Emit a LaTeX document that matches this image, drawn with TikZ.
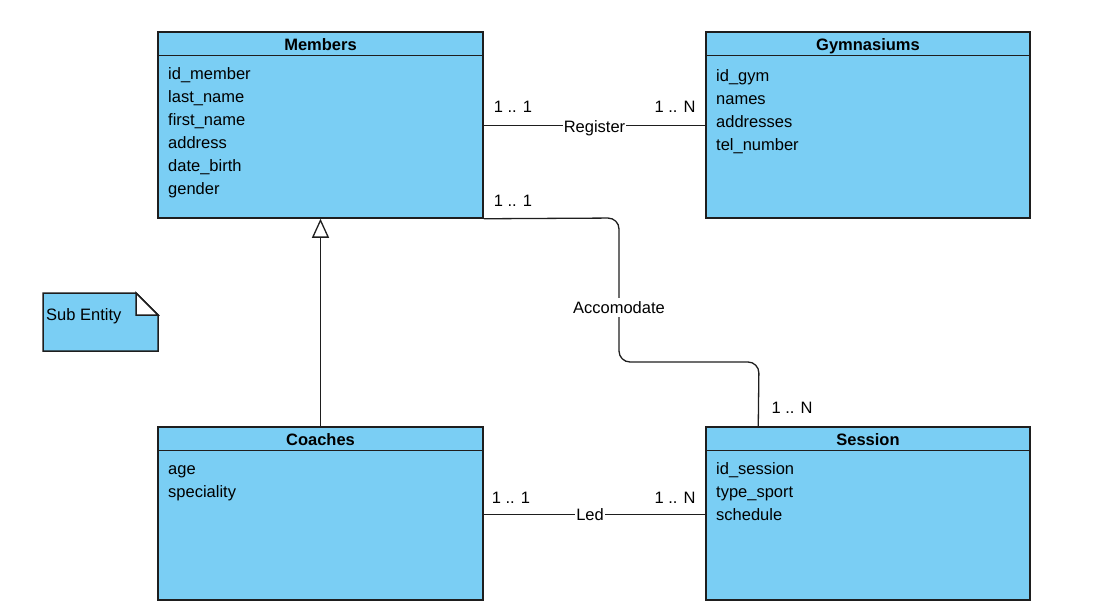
\documentclass[tikz,border=0pt]{standalone}
\usepackage{fontspec}
\setmainfont{Liberation Sans}
\usetikzlibrary{arrows.meta}
\definecolor{entityblue}{RGB}{122,206,244}
\definecolor{edgegray}{RGB}{30,30,30}
\tikzset{
    entity/.style={draw=edgegray, line width=1.5pt, fill=entityblue, rectangle, inner sep=0pt},
    txt/.style={inner sep=0pt, text height=15.5pt, text depth=3.5pt, font=\fontsize{16.5}{19}\selectfont},
    title/.style={txt, font=\bfseries\fontsize{16.5}{19}\selectfont},
    attr/.style={txt, anchor=west},
    card/.style={txt},
    link/.style={draw=edgegray, line width=1.3pt},
    linklabel/.style={txt, fill=white, inner xsep=1pt}
}
\begin{document}
\begin{tikzpicture}[x=1pt,y=-1pt]
    \useasboundingbox (0,0) rectangle (1116,613);
    % entities
    \node[entity, minimum width=325, minimum height=186] (members) at (320.5,125) {};
    \node[entity, minimum width=324, minimum height=186] (gyms) at (868,125) {};
    \node[entity, minimum width=325, minimum height=173] (coaches) at (320.5,513.5) {};
    \node[entity, minimum width=324, minimum height=173] (session) at (868,513.5) {};
    \foreach \e in {members,gyms,coaches,session} {
        \draw[edgegray, line width=1.5pt] ([yshift=-24]\e.north west) -- ([yshift=-24]\e.north east);
    }
    \node[title] (members title) at (320.5,44) {Members};
    \node[title] (gyms title) at (868,44) {Gymnasiums};
    \node[title] (coaches title) at (320.5,439) {Coaches};
    \node[title] (session title) at (868,439) {Session};
    % attributes
    \foreach \t [count=\i] in {id\_member,last\_name,first\_name,address,date\_birth,gender} {
        \node[attr] (members attr \i) at (168,50+23*\i) {\t};
    }
    \foreach \t [count=\i] in {id\_gym,names,addresses,tel\_number} {
        \node[attr] (gyms attr \i) at (716,52+23*\i) {\t};
    }
    \foreach \t [count=\i] in {age,speciality} {
        \node[attr] (coaches attr \i) at (168,445+23*\i) {\t};
    }
    \foreach \t [count=\i] in {id\_session,type\_sport,schedule} {
        \node[attr] (session attr \i) at (716,445+23*\i) {\t};
    }
    % note
    \draw[entity] (43,293) -- (136,293) -- (158,315) -- (158,351) -- (43,351) -- cycle;
    \draw[edgegray, line width=1.5pt, fill=white] (136,293) -- (136,315) -- (158,315) -- cycle;
    \node[attr] (note) at (46,314) {Sub Entity};
    % relations
    \coordinate (reg left) at ([yshift=-94]members.north east);
    \coordinate (reg right) at ([yshift=-94]gyms.north west);
    \draw[link] (reg left) -- (reg right) node[linklabel, midway, yshift=-1] (register) {Register};
    \coordinate (acc end) at ([xshift=53]session.north west);
    \draw[link, rounded corners=11] (members.south east) -- (619,218) -- (619,362) -- (759,362) -- (acc end);
    \node[linklabel] (accomodate) at (619,307) {Accomodate};
    \coordinate (led left) at ([yshift=-88]coaches.north east);
    \coordinate (led right) at ([yshift=-88]session.north west);
    \draw[link] (led left) -- (led right) node[linklabel, pos=0.48] (led) {Led};
    \draw[link, -{Triangle[open, length=19pt, width=17pt]}] (coaches.north) -- (members.south);
    % cardinalities
    \node[card] (reg one) at (513,106) {1 .. 1};
    \node[card] (reg many) at (675,106) {1 .. N};
    \node[card] (acc one) at (513,200) {1 .. 1};
    \node[card] (acc many) at (792,407) {1 .. N};
    \node[card] (led one) at (511,497) {1 .. 1};
    \node[card] (led many) at (675,497) {1 .. N};
\end{tikzpicture}
\end{document}
